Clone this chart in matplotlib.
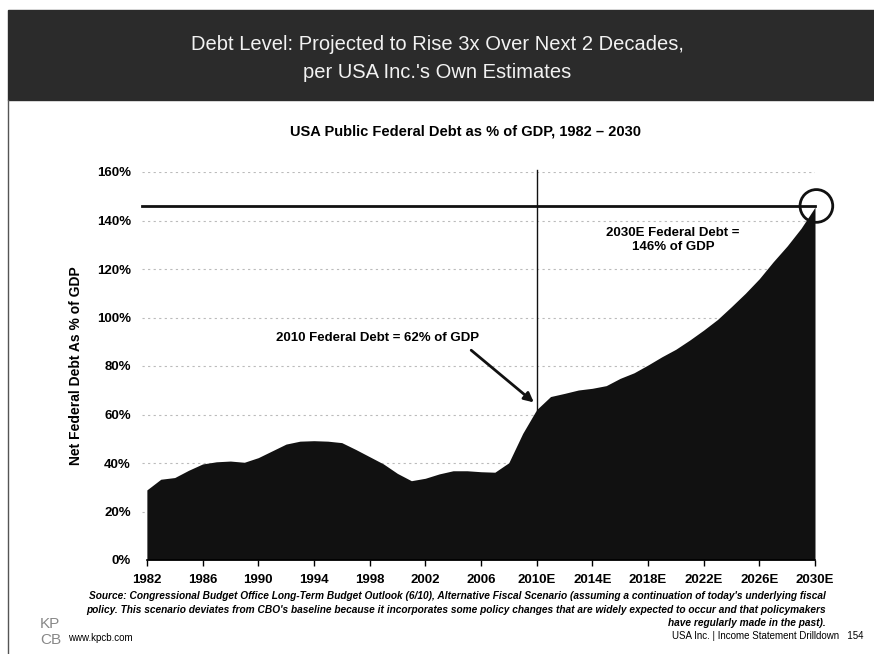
import matplotlib
matplotlib.use("Agg")
import matplotlib.pyplot as plt
from matplotlib.patches import Rectangle, Ellipse

plt.rcParams["font.family"] = ["Liberation Sans", "DejaVu Sans"]

years = list(range(1982, 2031))
debt = [28.9, 33.3, 34.0, 37.0, 39.6, 40.5, 40.8, 40.3, 42.2, 45.0,
        47.8, 49.0, 49.2, 49.0, 48.4, 45.6, 42.6, 39.6, 35.7, 32.7,
        33.7, 35.5, 36.8, 36.8, 36.4, 36.2, 40.1, 52.2, 62.0, 67.4,
        68.7, 70.1, 70.8, 71.9, 74.9, 77.2, 80.4, 83.8, 86.9, 90.7,
        94.8, 99.2, 104.5, 110.0, 116.0, 123.0, 129.5, 136.8, 145.5]
tick_years = [1982, 1986, 1990, 1994, 1998, 2002, 2006, 2010, 2014, 2018, 2022, 2026, 2030]
tick_labels = ["1982", "1986", "1990", "1994", "1998", "2002", "2006",
               "2010E", "2014E", "2018E", "2022E", "2026E", "2030E"]
y_ticks = [0, 20, 40, 60, 80, 100, 120, 140, 160]

fig = plt.figure(figsize=(8.74, 6.54), dpi=100)

# header band
fig.patches.append(Rectangle((8 / 874, 1 - 100 / 654), 1, 90 / 654,
                             transform=fig.transFigure, color="#2b2b2b", zorder=0))
fig.text(0.5, 1 - 45 / 654, "Debt Level: Projected to Rise 3x Over Next 2 Decades,",
         ha="center", va="center", color="#f2f2f2", fontsize=14.5)
fig.text(0.5, 1 - 73 / 654, "per USA Inc.'s Own Estimates",
         ha="center", va="center", color="#f2f2f2", fontsize=14.5)
fig.lines.append(plt.Line2D([8 / 874, 8 / 874], [0, 1 - 100 / 654],
                            transform=fig.transFigure, color="#555555", lw=1))

ax = fig.add_axes([142 / 874, 94 / 654, 673 / 874, 388 / 654])
ax.fill_between(years, debt, 0, color="#111111", lw=0, zorder=2)
ax.set_xlim(1981.65, 2030.0)
ax.set_ylim(0, 160)

for v in y_ticks[1:]:
    ax.axhline(v, color="#bbbbbb", lw=0.8, ls=(0, (2, 3)), zorder=1)

for s in ["top", "right", "left"]:
    ax.spines[s].set_visible(False)
ax.spines["bottom"].set_bounds(1982, 2030)
ax.spines["bottom"].set_linewidth(1.2)

ax.set_xticks(tick_years)
ax.set_xticklabels(tick_labels, fontweight="bold", fontsize=9.5)
ax.set_yticks(y_ticks)
ax.set_yticklabels([f"{v}%" for v in y_ticks], fontweight="bold", fontsize=9.5)
ax.tick_params(axis="x", direction="out", length=4, width=1, pad=6)
ax.tick_params(axis="y", length=0, pad=8)
ax.set_ylabel("Net Federal Debt As % of GDP", fontweight="bold", fontsize=10, labelpad=10)

ax.set_title("USA Public Federal Debt as % of GDP, 1982 \u2013 2030",
             fontweight="bold", fontsize=10.5, pad=26, x=0.48)

# reference lines
ax.plot([1981.65, 2030], [146, 146], color="#111111", lw=2, zorder=3, clip_on=False)
ax.plot([2010, 2010], [62, 161], color="#111111", lw=1, zorder=3, clip_on=False)
circ = Ellipse((2030.1, 146), width=2.35, height=13.5, fill=False, ec="#111111",
               lw=2, zorder=4, clip_on=False)
ax.add_patch(circ)

ax.text(1998.6, 91.5, "2010 Federal Debt = 62% of GDP", ha="center", va="center",
        fontsize=9.5, fontweight="bold")
ax.annotate("", xy=(2009.8, 65.0), xytext=(2005.3, 86.5),
            arrowprops=dict(arrowstyle="-|>", color="#111111", lw=2,
                            shrinkA=0, shrinkB=0, mutation_scale=14))
ax.text(2019.8, 132, "2030E Federal Debt =\n146% of GDP", ha="center", va="center",
        fontsize=9.5, fontweight="bold", linespacing=1.3)

# footer
src = ("Source: Congressional Budget Office Long-Term Budget Outlook (6/10), Alternative Fiscal Scenario (assuming a continuation of today's underlying fiscal\n"
       "policy. This scenario deviates from CBO's baseline because it incorporates some policy changes that are widely expected to occur and that policymakers\n"
       "have regularly made in the past).")
fig.text(826 / 874, 1 - 591 / 654, src, ha="right", va="top", fontsize=7.3,
         style="italic", fontweight="bold", linespacing=1.45,
         multialignment="right")
fig.text(40 / 874, 1 - 624 / 654, "KP", fontsize=11, color="#888888", va="center")
fig.text(40 / 874, 1 - 640 / 654, "CB", fontsize=11, color="#888888", va="center")
fig.text(68 / 874, 1 - 638 / 654, "www.kpcb.com", fontsize=7, va="center")
fig.text(864 / 874, 1 - 636 / 654, "USA Inc. | Income Statement Drilldown   154",
         fontsize=7, ha="right", va="center")

fig.savefig("out.png", dpi=100)
